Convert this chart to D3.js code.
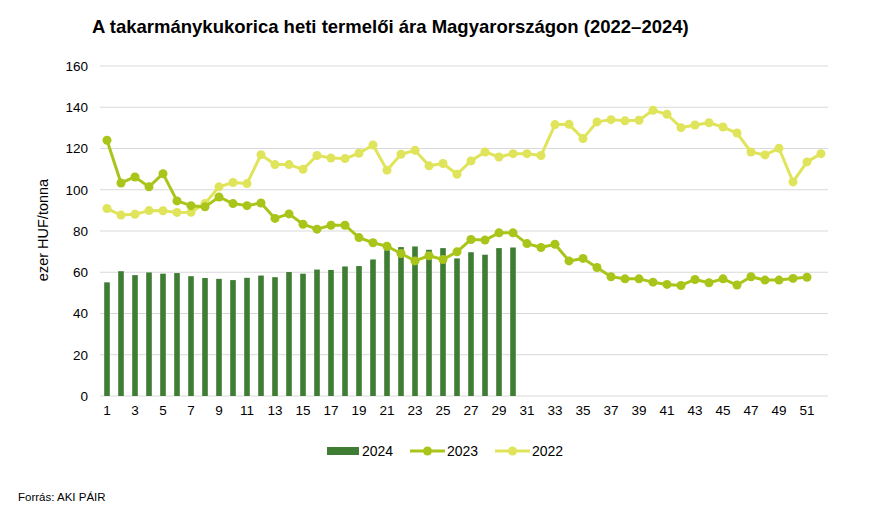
<!DOCTYPE html>
<html><head><meta charset="utf-8">
<script src="https://cdn.jsdelivr.net/npm/d3@7"></script>
<style>body{margin:0;background:#fff;} svg{display:block;font-family:"Liberation Sans",Arial,sans-serif;}</style>
</head><body>
<svg id="c" width="880" height="509"></svg>
<script>
const weeks = d3.range(1, 53);
const v2024 = [55.1,60.5,58.6,59.9,59.3,59.6,58.1,57.2,56.8,56.2,57.3,58.4,57.6,60.1,59.3,61.3,61.1,62.8,63.0,66.2,70.7,72.2,72.5,70.9,71.7,66.7,69.7,68.5,71.7,72.0];
const v2023 = [124.0,103.3,106.2,101.4,107.8,94.6,92.3,91.7,96.5,93.3,92.3,93.6,86.1,88.3,83.3,80.9,82.8,82.8,76.8,74.3,72.6,69.1,65.5,68.0,66.2,69.9,75.9,75.6,79.1,79.1,73.9,72.0,73.6,65.5,66.7,62.3,57.8,56.8,56.8,55.2,54.1,53.6,56.5,54.9,56.8,53.8,57.8,56.2,56.2,57.0,57.6];
const v2022 = [90.9,87.7,88.1,89.9,89.8,89.0,89.1,93.3,101.4,103.5,103.0,117.0,112.2,112.2,109.9,116.6,115.4,115.1,117.7,121.7,109.5,117.2,119.1,111.6,112.7,107.5,114.0,118.3,115.9,117.5,117.5,116.6,131.6,131.7,124.8,132.9,134.0,133.4,133.7,138.5,136.6,130.1,131.4,132.5,130.4,127.5,118.3,116.9,120.1,103.8,113.5,117.5];
const yTicks = [0,20,40,60,80,100,120,140,160];
const xTickLabels = d3.range(1, 52, 2);
const seriesNames = ["2024","2023","2022"];
const colors = {"2024":"#3f7d35","2023":"#a9c51a","2022":"#dfe45a"};

const svg = d3.select("#c");
const L = 100, R = 828, T = 66, B = 396;
const x = d3.scaleBand().domain(weeks).range([L, R]).paddingInner(0.6).paddingOuter(0.3);
const xc = d => x(d) + x.bandwidth()/2;
const y = d3.scaleLinear().domain([0,160]).range([B, T]);

// gridlines
svg.append("g").selectAll("line").data(yTicks).join("line")
  .attr("x1", L).attr("x2", R).attr("y1", d => y(d)).attr("y2", d => y(d))
  .attr("stroke", "#d9d9d9").attr("stroke-width", 1);

// y axis labels
const ya = svg.append("g").attr("transform", `translate(${L},0)`)
  .call(d3.axisLeft(y).tickValues(yTicks).tickSize(0).tickPadding(12));
ya.select(".domain").remove();
ya.selectAll("text").attr("font-size", 13.5).attr("fill", "#000").attr("font-family", "Liberation Sans, Arial, sans-serif");

// x axis labels
const xa = svg.append("g").attr("transform", `translate(0,${B})`)
  .call(d3.axisBottom(x).tickValues(xTickLabels).tickSize(0).tickPadding(9));
xa.select(".domain").remove();
xa.selectAll("text").attr("font-size", 13.5).attr("fill", "#000").attr("font-family", "Liberation Sans, Arial, sans-serif");

// bars
svg.append("g").selectAll("rect").data(v2024).join("rect")
  .attr("x", (d,i) => x(weeks[i])).attr("width", x.bandwidth())
  .attr("y", d => y(d)).attr("height", d => B - y(d))
  .attr("fill", colors["2024"]);

function lineSeries(vals, col) {
  const pts = vals.map((v,i) => [xc(weeks[i]), y(v)]);
  svg.append("path").datum(pts).attr("d", d3.line())
    .attr("fill", "none").attr("stroke", col).attr("stroke-width", 3).attr("stroke-linejoin", "round");
  svg.append("g").selectAll("circle").data(pts).join("circle")
    .attr("cx", d => d[0]).attr("cy", d => d[1]).attr("r", 4.5).attr("fill", col);
}
lineSeries(v2022, colors["2022"]);
lineSeries(v2023, colors["2023"]);

// title
svg.append("text").attr("x", 92).attr("y", 33).attr("font-size", 18.5).attr("font-weight", "bold")
  .attr("fill", "#000").text("A takarmánykukorica heti termelői ára Magyarországon (2022–2024)");

// y label
svg.append("text").attr("transform", "translate(48,230) rotate(-90)").attr("text-anchor", "middle")
  .attr("font-size", 14.5).attr("fill", "#000").text("ezer HUF/tonna");

// legend
const lg = svg.append("g");
lg.append("rect").attr("x", 327).attr("y", 447).attr("width", 32).attr("height", 8).attr("fill", colors["2024"]);
lg.append("text").attr("x", 362).attr("y", 456).attr("font-size", 14).text(seriesNames[0]);
[[410, "2023"], [495, "2022"]].forEach(([lx, n]) => {
  lg.append("line").attr("x1", lx).attr("x2", lx+35).attr("y1", 451).attr("y2", 451).attr("stroke", colors[n]).attr("stroke-width", 3);
  lg.append("circle").attr("cx", lx+17.5).attr("cy", 451).attr("r", 4.5).attr("fill", colors[n]);
  lg.append("text").attr("x", lx+37).attr("y", 456).attr("font-size", 14).text(n);
});

// source
svg.append("text").attr("x", 18).attr("y", 501).attr("font-size", 11.5).attr("fill", "#000").text("Forrás: AKI PÁIR");
</script>
</body></html>
